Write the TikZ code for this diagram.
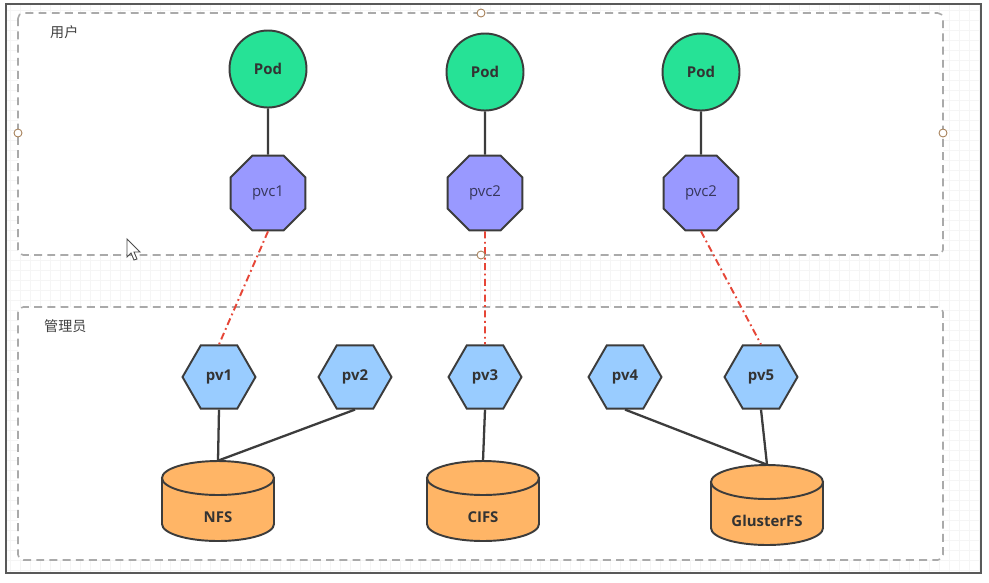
\documentclass[tikz,border=0pt]{standalone}
\usepackage{fontspec}
\setmainfont{Open Sans}
\newfontfamily\cjkfont{Noto Sans CJK SC}
\usetikzlibrary{positioning, shapes.geometric, calc}
\definecolor{podgreen}{RGB}{38, 226, 150}
\definecolor{pvcblue}{RGB}{153, 153, 255}
\definecolor{pvblue}{RGB}{153, 204, 255}
\definecolor{fsorange}{RGB}{255, 181, 102}
\definecolor{edge}{RGB}{60, 60, 60}
\definecolor{bind}{RGB}{230, 70, 55}
\definecolor{frame}{RGB}{170, 170, 170}

\begin{document}
\begin{tikzpicture}[
    x=0.02cm, y=-0.02cm,
    font=\fontsize{8.5}{10}\selectfont,
    group/.style={
        draw=frame,
        line width=0.9pt,
        dash pattern=on 4.5pt off 3pt,
        rounded corners=3pt,
        fill=white
    },
    grouplbl/.style={font=\cjkfont\fontsize{8}{10}\selectfont, text=black!75, anchor=west},
    pod/.style={
        circle,
        draw=edge,
        line width=1.1pt,
        fill=podgreen,
        minimum size=1.54cm,
        font=\fontsize{8.5}{10}\selectfont\bfseries,
        text=black!80
    },
    pvc/.style={
        regular polygon,
        regular polygon sides=8,
        draw=edge,
        line width=1.1pt,
        fill=pvcblue,
        minimum size=1.62cm,
        inner sep=0pt,
        text=black!40!pvcblue!60!black
    },
    pv/.style={
        regular polygon,
        regular polygon sides=6,
        draw=edge,
        line width=1.1pt,
        fill=pvblue,
        minimum size=1.46cm,
        inner sep=0pt,
        font=\fontsize{8.5}{10}\selectfont\bfseries,
        text=black!80
    },
    store/.style={
        rectangle,
        minimum width=2.24cm,
        minimum height=1.6cm,
        inner sep=0pt,
        text height=24pt,
        text depth=0pt,
        font=\fontsize{8.5}{10}\selectfont\bfseries,
        text=black!80
    },
    storeline/.style={draw=edge, line width=1.1pt, fill=fsorange},
    link/.style={draw=edge, line width=1.3pt},
    claim/.style={draw=bind, line width=1.1pt, dash pattern=on 4pt off 2pt on 1pt off 2pt},
    handle/.style={circle, draw=brown!60!gray, fill=white, line width=0.5pt, inner sep=0pt, minimum size=0.16cm}
]

\useasboundingbox (0,0) rectangle (989,582);
\fill[white] (0,0) rectangle (989,582);

% === editor canvas ===
\draw[black!4, line width=0.4pt, step=0.2cm] (6,4) grid (981,573);
\draw[black!65, line width=1pt] (6,4) rectangle (981,573);

% === 用户 ===
\draw[group] (18,13) rectangle (943,255);
\node[grouplbl] (userlbl) at (44,32) {用户};

\node[pod] (pod1) at (268,69) {Pod};
\node[pod] (pod2) at (485,72) {Pod};
\node[pod] (pod3) at (701,72) {Pod};

\node[pvc] (pvc1) at (268,193) {pvc1};
\node[pvc] (pvc2) at (485,193) {pvc2};
\node[pvc] (pvc3) at (701,193) {pvc2};

% === 管理员 ===
\draw[group] (18,307) rectangle (943,560);
\node[grouplbl] (adminlbl) at (38,326) {管理员};

\node[pv] (pv1) at (219,377) {pv1};
\node[pv] (pv2) at (355,377) {pv2};
\node[pv] (pv3) at (485,377) {pv3};
\node[pv] (pv4) at (625,377) {pv4};
\node[pv] (pv5) at (761,377) {pv5};

% cylinders: outline drawn behind the text nodes
\coordinate (nfsc) at (218,501);
\coordinate (cifsc) at (483,501);
\coordinate (glusterc) at (767,505);
\foreach \s in {nfsc,cifsc,glusterc} {
    \draw[storeline] ($(\s)+(-56,-23)$) -- ($(\s)+(-56,23)$)
        arc[start angle=180, end angle=0, x radius=56, y radius=17]
        -- ($(\s)+(56,-23)$) -- cycle;
    \draw[storeline] ($(\s)+(0,-23)$) ellipse[x radius=56, y radius=17];
}
\node[store] (nfs) at (nfsc) {NFS};
\node[store] (cifs) at (cifsc) {CIFS};
\node[store] (gluster) at (glusterc) {GlusterFS};

% === links ===
\draw[link] (pod1) -- (pvc1);
\draw[link] (pod2) -- (pvc2);
\draw[link] (pod3) -- (pvc3);

\draw[claim] (pvc1.south) -- (pv1.north);
\draw[claim] (pvc2.south) -- (pv3.north);
\draw[claim] (pvc3.south) -- (pv5.north);

\draw[link] (pv1.south) -- (nfs.north);
\draw[link] (pv2.south) -- (nfs.north);
\draw[link] (pv3.south) -- (cifs.north);
\draw[link] (pv4.south) -- (gluster.north);
\draw[link] (pv5.south) -- (gluster.north);

% === selection handles ===
\node[handle] (h1) at (481,13) {};
\node[handle] (h2) at (18,133) {};
\node[handle] (h3) at (943,133) {};
\node[handle] (h4) at (481,255) {};

% === cursor ===
\draw[black!70, fill=white, line width=0.5pt] (127,239) -- (127,257) -- (131,253) -- (134,260) -- (137,259) -- (134,252) -- (140,252) -- cycle;

\end{tikzpicture}
\end{document}
